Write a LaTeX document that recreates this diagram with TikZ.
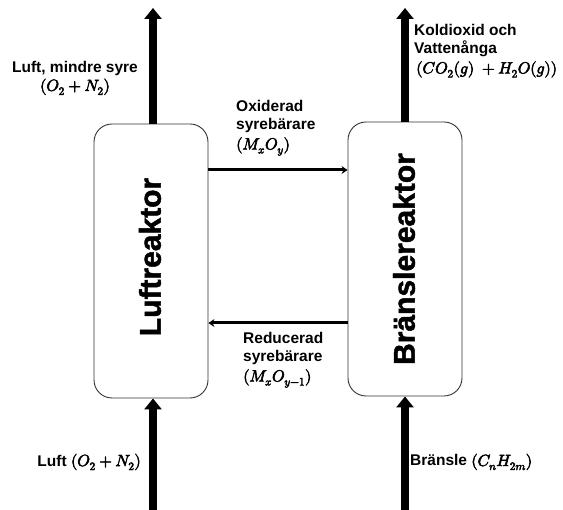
\documentclass[tikz,border=0pt]{standalone}
\usepackage{amsmath}
\usepackage{fontspec}
\usepackage{unicode-math}
\setmainfont{Liberation Sans}
\newfontfamily\heavyfont{Liberation Sans}[BoldFeatures={FakeBold=1.6}]
\setmathfont{Latin Modern Math}
\setmathfont{Latin Modern Math}[version=bold,FakeBold=3.5,Scale=1.04]
\usetikzlibrary{arrows.meta,positioning}
\tikzset{
  reactor/.style={draw=black!80,line width=0.9pt,rounded corners=18pt,minimum width=114pt,minimum height=274pt,inner sep=0pt},
  bigflow/.style={line width=8pt,-{Triangle[width=17pt,length=11pt]}},
  carrier/.style={line width=3pt,-{Stealth[width=8pt,length=6pt]}},
  lbl/.style={font=\fontsize{15.5}{18.5}\selectfont\bfseries\boldmath,inner sep=0pt,align=left},
  rlbl/.style={font=\heavyfont\fontsize{30}{34}\selectfont\bfseries,rotate=90,inner sep=0pt}
}
\begin{document}
\begin{tikzpicture}[x=1pt,y=1pt]
\useasboundingbox (0,0) rectangle (563,510);
% reactors
\node[reactor] (lr) at (151,249) {};
\node[reactor] (br) at (405,251) {};
\node[rlbl] (lrt) at (150,253) {Luftreaktor};
\node[rlbl] (brt) at (404,251) {Bränslereaktor};
% outlet / inlet coordinates
\coordinate (lt) at (153,502);
\coordinate (rt) at (405,502);
\coordinate (lb) at (153,0);
\coordinate (rb) at (405,0);
\draw[bigflow] (lr.north -| lt) -- (lt);
\draw[bigflow] (br.north -| rt) -- (rt);
\draw[bigflow] (lb) -- (lr.south -| lb);
\draw[bigflow] (rb) -- (br.south -| rb);
% carrier arrows
\coordinate (oy) at (0,340);
\coordinate (ry) at (0,187);
\draw[carrier] (lr.east |- oy) -- (br.west |- oy);
\draw[carrier] (br.west |- ry) -- (lr.east |- ry);
% labels
\node[lbl,align=center] (l1) at (75,432) {Luft, mindre syre\\$(O_2+N_2)$};
\node[lbl,anchor=north west] (l2) at (414,486) {Koldioxid och\\Vattenånga\\[1pt]\hspace*{2pt}$(CO_2(g)\ +H_2O(g))$};
\node[lbl,anchor=north west] (l3) at (236,410) {Oxiderad\\syrebärare\\[1pt]$(M_xO_y)$};
\node[lbl,anchor=north west] (l4) at (243,178) {Reducerad\\syrebärare\\[1pt]$(M_xO_{y-1})$};
\node[lbl,anchor=east] (l5) at (141,48) {Luft $(O_2+N_2)$};
\node[lbl,anchor=west] (l6) at (410,48) {Bränsle $(C_nH_{2m})$};
\end{tikzpicture}
\end{document}
